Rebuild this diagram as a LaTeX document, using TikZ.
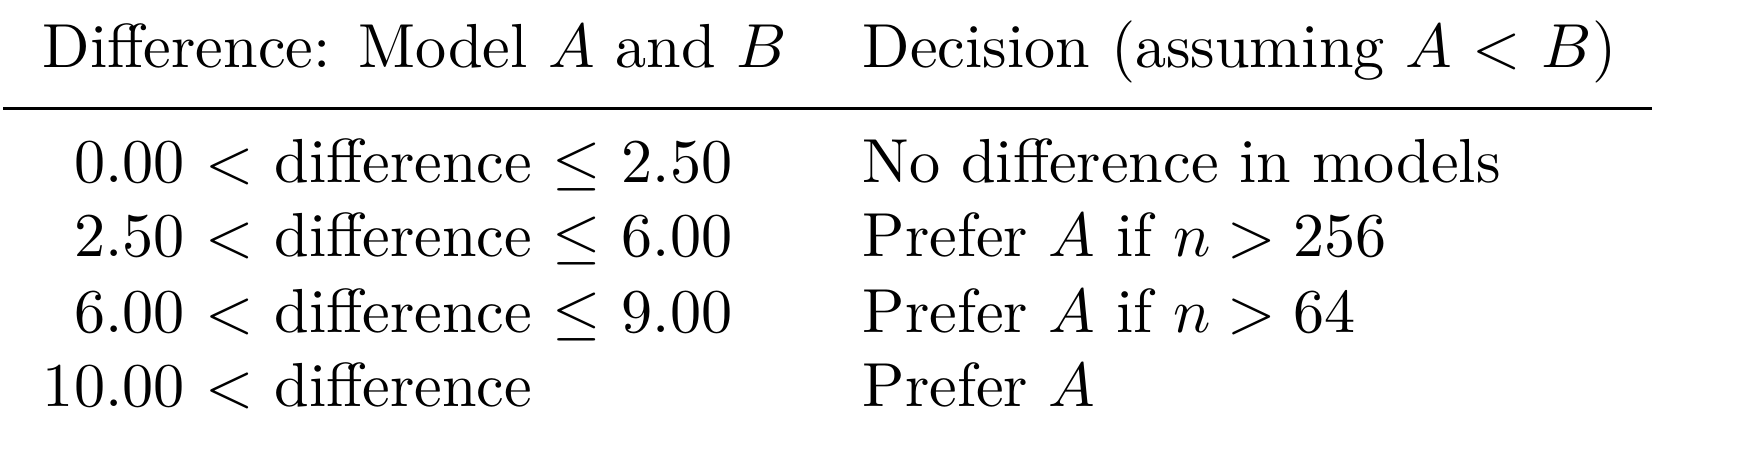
\documentclass[tikz,border=0pt]{standalone}
\begin{document}
\begin{tikzpicture}[
        x=1pt, y=1pt,
        cell/.style = {anchor=base west, inner sep=0pt, outer sep=0pt}
    ]
        \useasboundingbox (0,0) rectangle (280.7,-73);

        \node[cell] (H1) at (  6.9,-10.8){Difference: Model $A$ and $B$};
        \node[cell] (H2) at (138.7,-10.8){Decision (assuming $A$ $<$ $B$)};

        \coordinate (ruleL) at (  0.5,-17.4);
        \coordinate (ruleR) at (265.6,-17.4);
        \draw[line width=0.5pt] (ruleL) -- (ruleR);

        \node[cell] (R11) at (  6.9,-29.3){\phantom{1}0.00 $<$ difference $\leq$ 2.50};
        \node[cell] (R12) at (138.7,-29.3){No difference in models};

        \node[cell] (R21) at (  6.9,-41.3){\phantom{1}2.50 $<$ difference $\leq$ 6.00};
        \node[cell] (R22) at (138.7,-41.3){Prefer $A$ if $n > 256$};

        \node[cell] (R31) at (  6.9,-53.4){\phantom{1}6.00 $<$ difference $\leq$ 9.00};
        \node[cell] (R32) at (138.7,-53.4){Prefer $A$ if $n > 64$};

        \node[cell] (R41) at (  6.9,-65.4){10.00 $<$ difference};
        \node[cell] (R42) at (138.7,-65.4){Prefer $A$};
    \end{tikzpicture}
\end{document}
